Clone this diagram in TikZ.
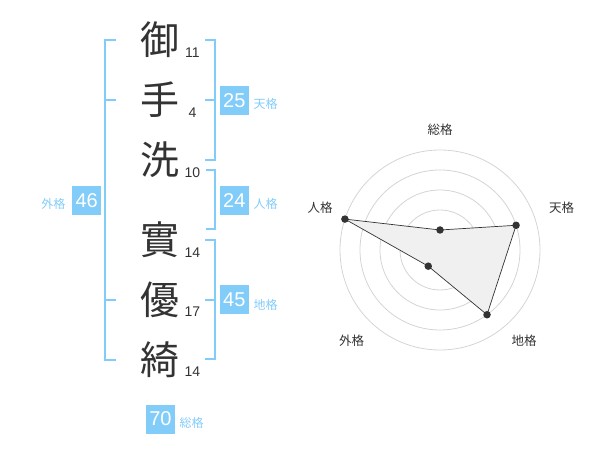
\documentclass[tikz,border=0pt]{standalone}
\usepackage{fontspec}
\setmainfont{Liberation Sans}
\newfontfamily\jp{Noto Sans CJK JP}
\definecolor{sky}{RGB}{130,204,250}
\definecolor{ink}{RGB}{51,51,51}
\definecolor{ring}{RGB}{212,212,212}
\definecolor{area}{RGB}{240,240,240}
\begin{document}
\begin{tikzpicture}[x=1pt,y=-1pt,
  kanji/.style={inner sep=0pt,font=\jp\fontsize{39}{39}\selectfont,text=ink},
  strokes/.style={inner sep=0pt,font=\fontsize{14}{14}\selectfont,text=ink},
  score/.style={fill=sky,text=white,minimum width=29pt,minimum height=29pt,inner sep=0pt,font=\fontsize{20}{20}\selectfont},
  kaku/.style={inner sep=0pt,text=sky,font=\jp\fontsize{12}{12}\selectfont},
  bracket/.style={draw=sky,line width=2pt},
  rlabel/.style={inner sep=0pt,text=ink,font=\jp\fontsize{12.5}{12.5}\selectfont},
  rdot/.style={circle,fill=ink,inner sep=0pt,minimum size=7.5pt}]
\useasboundingbox (0,0) rectangle (600,470);
% kanji
\node[kanji] (k1) at (160,40) {御};
\node[kanji] (k2) at (160,100) {手};
\node[kanji] (k3) at (160,160) {洗};
\node[kanji] (k4) at (160,240) {實};
\node[kanji] (k5) at (160,300) {優};
\node[kanji] (k6) at (160,360) {綺};
% stroke counts
\node[strokes] (s1) at (192.5,53) {11};
\node[strokes] (s2) at (192.5,113) {4};
\node[strokes] (s3) at (192.5,173) {10};
\node[strokes] (s4) at (192.5,253) {14};
\node[strokes] (s5) at (192.5,312) {17};
\node[strokes] (s6) at (192.5,372) {14};
% brackets
\draw[bracket] (116,40) -- (105,40) -- (105,360) -- (116,360);
\draw[bracket] (105,100) -- (116,100);
\draw[bracket] (105,300) -- (116,300);
\draw[bracket] (205,40) -- (214.5,40) -- (214.5,160) -- (205,160);
\draw[bracket] (205,100) -- (214.5,100);
\draw[bracket] (206,170) -- (214.5,170) -- (214.5,229.5) -- (206,229.5);
\draw[bracket] (205,240) -- (214.5,240) -- (214.5,359.5) -- (205,359.5);
\draw[bracket] (205,300) -- (214.5,300);
% scores
\node[score] (ten) at (234.3,100.5) {25};
\node[score] (jin) at (234.3,200.8) {24};
\node[score] (chi) at (234.3,300) {45};
\node[score] (gai) at (86.7,200.5) {46};
\node[score] (sou) at (160.5,419) {70};
\node[kaku] (tenL) at (265.7,104) {天格};
\node[kaku] (jinL) at (265.7,203.5) {人格};
\node[kaku] (chiL) at (265.7,305) {地格};
\node[kaku] (gaiL) at (53.3,203.5) {外格};
\node[kaku] (souL) at (191.7,422.5) {総格};
% radar
\begin{scope}[x=1pt,y=1pt,shift={(440,-250)}]
  \foreach \r in {20,40,60,80,100} \draw[ring,line width=0.8pt] (0,0) circle[radius=\r pt];
  \fill[ring] (0,0) circle[radius=3.5pt];
  \coordinate (pS) at (90:20);
  \coordinate (pT) at (18:80);
  \coordinate (pC) at (-54:80);
  \coordinate (pG) at (-126:20);
  \coordinate (pJ) at (162:100);
  \filldraw[fill=area,draw=ink,line width=0.7pt] (pS) -- (pT) -- (pC) -- (pG) -- (pJ) -- cycle;
  \foreach \p in {pS,pT,pC,pG,pJ} \node[rdot] at (\p) {};
\end{scope}
\node[rlabel] (rS) at (440,130) {総格};
\node[rlabel] (rT) at (561.7,208) {天格};
\node[rlabel] (rC) at (524,341) {地格};
\node[rlabel] (rG) at (351.7,341) {外格};
\node[rlabel] (rJ) at (320,208) {人格};
\end{tikzpicture}
\end{document}
